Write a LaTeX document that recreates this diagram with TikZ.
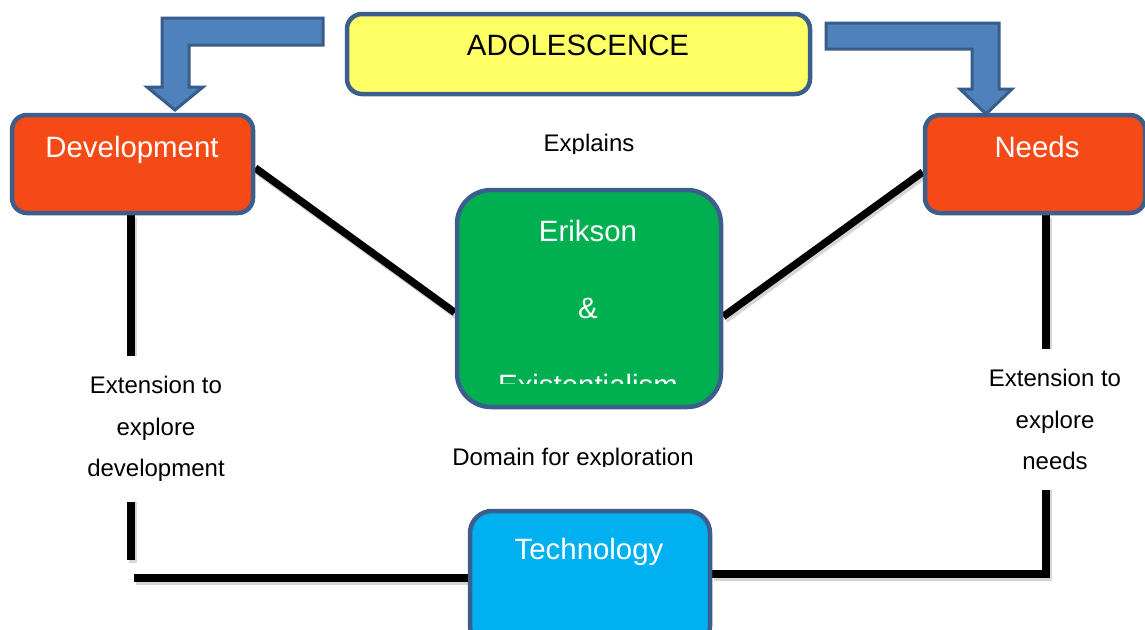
\documentclass[tikz,border=0pt]{standalone}
\usepackage{fontspec}
\setmainfont{Liberation Sans}
\usetikzlibrary{calc}
\definecolor{bord}{HTML}{3B5E8C}
\definecolor{yel}{HTML}{FFFF66}
\definecolor{org}{HTML}{F64A16}
\definecolor{grn}{HTML}{00B050}
\definecolor{sky}{HTML}{00B0F0}
\definecolor{arrfill}{HTML}{4F81BD}
\definecolor{arrbord}{HTML}{385D8A}
\pgfdeclarelayer{background}
\pgfsetlayers{background,main}
\begin{document}
\begin{tikzpicture}[x=1pt,y=1pt,
  box/.style={draw=bord, line width=4.5pt, inner sep=0pt},
  big/.style={font=\fontsize{29.4}{34}\selectfont, inner sep=0pt, anchor=base},
  small/.style={font=\fontsize{24}{28}\selectfont, inner sep=0pt, anchor=base},
  extlabel/.style={fill=white, align=center, anchor=north, inner xsep=6pt, inner ysep=20pt,
                   font=\fontsize{24}{41.5}\selectfont},
  conn/.style={line width=7.5pt, line join=miter,
               preaction={draw=black!45, opacity=0.35, line width=7.5pt,
                          transform canvas={xshift=2pt,yshift=-3pt}}},
  blockarrow/.style={fill=arrfill, draw=arrbord, line width=3pt, line join=miter}
]
\clip (0,0) rectangle (1145,-629);

% coordinates for free ends
\coordinate (lc1) at (131,-560);
\coordinate (lc2) at (134,-578);
\coordinate (rc) at (1046,-574);

% boxes
\node[box, fill=yel, rounded corners=15pt, minimum width=463pt, minimum height=80pt] (adol) at (578.5,-54) {};
\node[box, fill=org, rounded corners=15pt, minimum width=241pt, minimum height=98pt] (dev) at (132.5,-164) {};
\node[box, fill=org, rounded corners=15pt, minimum width=220pt, minimum height=98pt] (needs) at (1035,-164) {};
\node[box, fill=grn, rounded corners=34pt, minimum width=264pt, minimum height=217pt] (erik) at (589,-298.5) {};
\node[box, fill=sky, rounded corners=22pt, minimum width=240pt, minimum height=137pt] (tech) at (590,-579.5) {};

% connectors, behind the boxes
\begin{pgfonlayer}{background}
\fill[white] (0,0) rectangle (1145,-629);
\draw[conn] ([yshift=-4]dev.east) -- ([yshift=-14]erik.west);
\draw[conn] ([yshift=-8]needs.west) -- ([yshift=-18]erik.east);
\draw[conn] ([xshift=-1.5]dev.south) -- (lc1);
\draw[conn] (lc2) -- (tech.west |- lc2);
\draw[conn] ([xshift=11]needs.south) -- (rc) -- (tech.east |- rc);
\end{pgfonlayer}

% texts
\node[big] (tadol) at (578,-55) {ADOLESCENCE};
\node[big, text=white] (tdev) at (132,-157) {Development};
\node[big, text=white] (tneeds) at (1037,-157) {Needs};
\node[big, text=white] (terik) at (588,-241) {Erikson};
\node[big, text=white] (tamp) at (588,-318) {\&};
\begin{scope}
\clip (440,-360) rectangle (740,-383);
\node[big, text=white] (texist) at (588,-395) {Existentialism};
\end{scope}
\node[big, text=white] (ttech) at (589,-559) {Technology};
\begin{scope}
\clip (480,-120) rectangle (700,-153);
\node[small] (texpl) at (589,-151) {Explains};
\end{scope}
\begin{scope}
\clip (420,-430) rectangle (740,-466);
\node[small] (tdom) at (573,-465) {Domain for exploration};
\end{scope}

% extension labels
\node[extlabel] (extL) at (156,-356) {Extension to\\explore\\development};
\node[extlabel] (extR) at (1055,-349) {Extension to\\explore\\needs};

% block arrows
\draw[blockarrow] (323,-18) -- (162,-18) -- (162,-87) -- (147,-87) -- (175,-110)
   -- (203,-87) -- (189,-87) -- (189,-45) -- (323,-45) -- cycle;
\draw[blockarrow] (826,-23) -- (999,-23) -- (999,-89) -- (1012,-89) -- (986,-114)
   -- (960,-89) -- (972,-89) -- (972,-49) -- (826,-49) -- cycle;
\end{tikzpicture}
\end{document}
